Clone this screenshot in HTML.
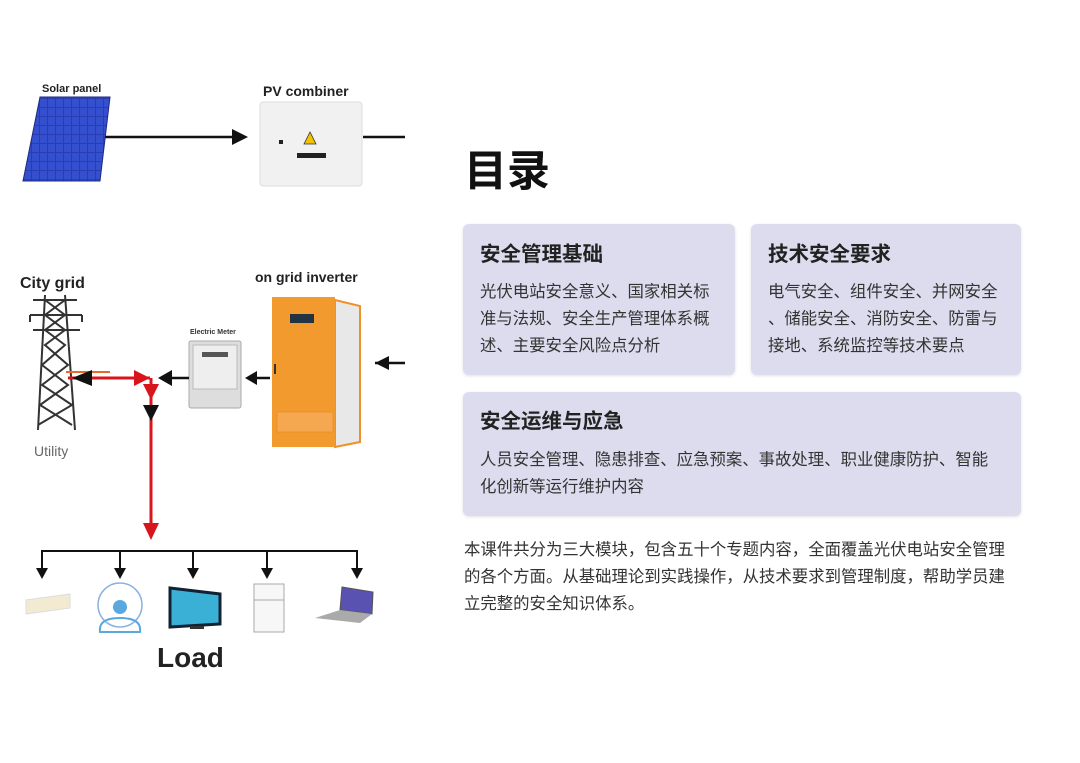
<!DOCTYPE html>
<html><head><meta charset="utf-8"><style>
html,body{margin:0;padding:0;background:#fff;}
body{width:1080px;height:763px;position:relative;overflow:hidden;font-family:"Liberation Sans","Noto Sans CJK SC",sans-serif;}
.t{position:absolute;left:464px;top:144px;font-size:43px;font-weight:bold;color:#111;line-height:56px;}
.card{position:absolute;background:#dcdcee;border-radius:6px;box-shadow:0 1px 3px rgba(0,0,0,0.12);}
.card h3{margin:0;position:absolute;left:17px;font-size:20.5px;font-weight:bold;color:#222;line-height:26px;}
.card p{margin:0;position:absolute;left:17px;font-size:16.4px;color:#333;line-height:27px;white-space:nowrap;}
.para{position:absolute;left:464px;top:537px;font-size:16.4px;color:#333;line-height:27px;white-space:nowrap;}
svg{position:absolute;left:0;top:0;}
</style></head><body>
<svg width="440" height="763" viewBox="0 0 440 763" font-family="Liberation Sans, sans-serif">
<defs>
<pattern id="cells" width="8" height="9" patternUnits="userSpaceOnUse"><rect width="8" height="9" fill="#2a3cb0"/><rect x="0" y="0" width="7" height="8" fill="#3550cf"/></pattern>
</defs>
<text x="42" y="92" font-size="11" font-weight="bold" fill="#222">Solar panel</text>
<polygon points="40,97 110,97 100,181 23,181" fill="url(#cells)" stroke="#1d2a80"/>
<line x1="105" y1="137" x2="234" y2="137" stroke="#111" stroke-width="2.5"/>
<polygon points="232,129 248,137 232,145" fill="#111"/>
<text x="263" y="96" font-size="14" font-weight="bold" fill="#222">PV combiner</text>
<rect x="260" y="102" width="102" height="84" rx="3" fill="#f1f1f1" stroke="#ddd"/>
<polygon points="310,132 304,144 316,144" fill="#f2c200" stroke="#333" stroke-width="0.8"/>
<rect x="279" y="140" width="4" height="4" fill="#222"/>
<rect x="297" y="153" width="29" height="5" fill="#222"/>
<line x1="363" y1="137" x2="405" y2="137" stroke="#111" stroke-width="2.5"/>
<text x="20" y="288" font-size="16" font-weight="bold" fill="#222">City grid</text>
<g stroke="#333" stroke-width="2" fill="none">
<line x1="45" y1="295" x2="38" y2="430"/><line x1="65" y1="295" x2="75" y2="430"/>
<line x1="33" y1="300" x2="77" y2="300"/><line x1="30" y1="315" x2="82" y2="315"/><line x1="33" y1="330" x2="80" y2="330"/>
<path d="M45 300 L65 315 L45 330 L65 345 L42 365 L68 385 L40 405 L72 425"/>
<path d="M65 300 L45 315 L65 330 L45 345 L68 365 L42 385 L72 405 L38 425"/>
<line x1="30" y1="315" x2="30" y2="322"/><line x1="82" y1="315" x2="82" y2="322"/>
</g>
<text x="34" y="456" font-size="14" fill="#666">Utility</text>
<text x="255" y="282" font-size="14" font-weight="bold" fill="#222">on grid inverter</text>
<polygon points="335,300 360,306 360,442 335,447" fill="#e8e8e8" stroke="#f0902a" stroke-width="2"/>
<rect x="272" y="297" width="63" height="150" fill="#f39a2e"/>
<rect x="290" y="314" width="24" height="9" fill="#234"/>
<rect x="274" y="364" width="2" height="10" fill="#333"/>
<rect x="277" y="412" width="56" height="20" fill="#f6a850" stroke="#e08020" stroke-width="0.5"/>
<line x1="375" y1="363" x2="405" y2="363" stroke="#111" stroke-width="2.5"/>
<polygon points="389,356 375,363 389,370" fill="#111"/>
<text x="190" y="334" font-size="7" font-weight="bold" fill="#333">Electric Meter</text>
<rect x="189" y="341" width="52" height="67" rx="2" fill="#ddd" stroke="#aaa"/>
<rect x="193" y="345" width="44" height="44" fill="#eee" stroke="#bbb"/>
<rect x="202" y="352" width="26" height="5" fill="#555"/>
<line x1="270" y1="378" x2="254" y2="378" stroke="#111" stroke-width="2.5"/>
<polygon points="257,371 245,378 257,385" fill="#111"/>
<line x1="189" y1="378" x2="170" y2="378" stroke="#111" stroke-width="2.5"/>
<polygon points="172,370 158,378 172,386" fill="#111"/>
<line x1="66" y1="372" x2="110" y2="372" stroke="#e86a2a" stroke-width="2"/>
<line x1="68" y1="378" x2="150" y2="378" stroke="#d8141c" stroke-width="3"/>
<polygon points="134,370 150,378 134,386" fill="#d8141c"/>
<polygon points="92,370 72,378 92,386" fill="#111"/>
<line x1="151" y1="378" x2="151" y2="530" stroke="#d8141c" stroke-width="3"/>
<polygon points="143,384 159,384 151,400" fill="#d8141c"/>
<polygon points="143,405 159,405 151,421" fill="#111"/>
<polygon points="143,523 159,523 151,540" fill="#d8141c"/>
<polyline points="42,576 42,551 357,551 357,576" fill="none" stroke="#111" stroke-width="2"/>
<g stroke="#111" stroke-width="2"><line x1="120" y1="551" x2="120" y2="570"/><line x1="193" y1="551" x2="193" y2="570"/><line x1="267" y1="551" x2="267" y2="570"/></g>
<g fill="#111">
<polygon points="36,568 48,568 42,579"/><polygon points="114,568 126,568 120,579"/><polygon points="187,568 199,568 193,579"/><polygon points="261,568 273,568 267,579"/><polygon points="351,568 363,568 357,579"/>
</g>
<polygon points="26,600 70,594 70,608 26,614" fill="#f3ead2" stroke="#ddd"/>
<circle cx="120" cy="605" r="22" fill="none" stroke="#8ab2dd" stroke-width="1.5"/>
<circle cx="120" cy="607" r="7" fill="#5aa8e0"/>
<path d="M100 632 Q98 618 120 618 Q142 618 140 632 Z" fill="none" stroke="#5aa8e0" stroke-width="2"/>
<polygon points="170,588 220,594 220,624 170,627" fill="#3ab0d6" stroke="#123" stroke-width="3"/>
<rect x="190" y="626" width="14" height="3" fill="#333"/>
<rect x="254" y="584" width="30" height="48" fill="#f7f7f7" stroke="#aaa"/>
<line x1="254" y1="600" x2="284" y2="600" stroke="#aaa"/>
<polygon points="342,587 373,592 372,614 340,610" fill="#5a52b0" stroke="#555"/>
<polygon points="340,610 372,614 360,623 315,618" fill="#aaa"/>
<text x="157" y="667" font-size="28" font-weight="bold" fill="#222">Load</text>
</svg>

<div class="t">目录</div>
<div class="card" style="left:463px;top:224px;width:272px;height:151px;">
<h3 style="top:18px;">安全管理基础</h3>
<p style="top:55px;">光伏电站安全意义、国家相关标<br>准与法规、安全生产管理体系概<br>述、主要安全风险点分析</p>
</div>
<div class="card" style="left:751px;top:224px;width:270px;height:151px;">
<h3 style="top:18px;">技术安全要求</h3>
<p style="top:55px;">电气安全、组件安全、并网安全<br>、储能安全、消防安全、防雷与<br>接地、系统监控等技术要点</p>
</div>
<div class="card" style="left:463px;top:392px;width:558px;height:124px;">
<h3 style="top:17px;">安全运维与应急</h3>
<p style="top:55px;">人员安全管理、隐患排查、应急预案、事故处理、职业健康防护、智能<br>化创新等运行维护内容</p>
</div>
<div class="para">本课件共分为三大模块，包含五十个专题内容，全面覆盖光伏电站安全管理<br>的各个方面。从基础理论到实践操作，从技术要求到管理制度，帮助学员建<br>立完整的安全知识体系。</div>
</body></html>
